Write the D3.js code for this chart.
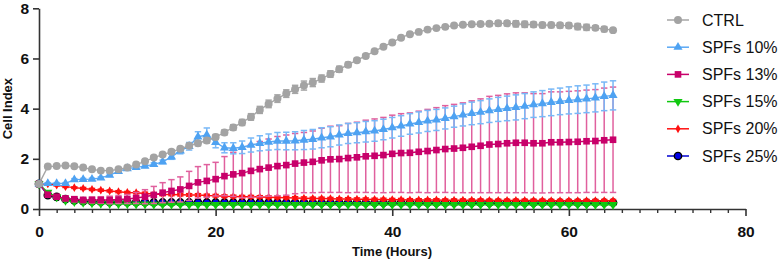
<!DOCTYPE html>
<html>
<head>
<meta charset="utf-8">
<script src="https://cdn.jsdelivr.net/npm/d3@7"></script>
<style>
  body { margin: 0; background: #fff; }
  text { font-family: Arial, "Liberation Sans", sans-serif; }
  .tick-label { font-size: 15.5px; font-weight: bold; fill: #111; }
  .axis-title { font-size: 13px; font-weight: bold; fill: #111; }
  .legend-label { font-size: 16px; fill: #111; }
</style>
</head>
<body>
<div id="chart"></div>
<script>
// hours of measurement
const hours = [0,1,2,3,4,5,6,7,8,9,10,11,12,13,14,15,16,17,18,19,20,21,22,23,24,25,26,27,28,29,
  30,31,32,33,34,35,36,37,38,39,40,41,42,43,44,45,46,47,48,49,50,51,52,53,54,55,56,57,58,59,
  60,61,62,63,64,65];

const ctrlMean = [1.00,1.69,1.71,1.73,1.70,1.65,1.58,1.53,1.53,1.58,1.65,1.77,1.90,2.05,2.17,2.28,2.40,2.52,2.62,2.73,
  2.87,3.05,3.25,3.45,3.67,3.95,4.19,4.40,4.60,4.77,4.92,5.04,5.20,5.38,5.57,5.75,5.93,6.10,6.29,6.47,
  6.64,6.83,6.97,7.06,7.15,7.21,7.26,7.31,7.34,7.36,7.37,7.38,7.40,7.40,7.38,7.36,7.35,7.33,7.33,7.32,
  7.31,7.27,7.24,7.22,7.17,7.13];
const ctrlErr = [0,0.03,0.03,0.03,0.03,0.03,0.03,0.04,0.04,0.04,0.05,0.05,0.06,0.06,0.07,0.08,0.08,0.09,0.10,0.10,
  0.10,0.10,0.11,0.12,0.13,0.14,0.15,0.15,0.15,0.16,0.18,0.16,0.14,0.13,0.12,0.10,0.08,0.07,0.06,0.05,
  0.05,0.04,0.04,0.04,0.04,0.04,0.04,0.05,0.05,0.06,0.07,0.08,0.10,0.10,0.12,0.12,0.10,0.10,0.10,0.10,
  0.10,0.12,0.12,0.08,0.10,0.06];

const spf10Mean = [1.00,1.02,1.02,1.02,1.17,1.18,1.19,1.24,1.35,1.50,1.61,1.66,1.71,1.78,1.88,2.08,2.32,2.50,2.88,2.95,
  2.66,2.44,2.42,2.46,2.55,2.62,2.67,2.71,2.71,2.72,2.75,2.78,2.84,2.88,2.95,3.01,3.04,3.08,3.11,3.17,
  3.24,3.31,3.39,3.45,3.51,3.55,3.61,3.68,3.75,3.81,3.86,3.92,3.97,4.01,4.05,4.10,4.16,4.20,4.25,4.29,
  4.33,4.36,4.39,4.43,4.49,4.53];
const spf10Err = [0,0.03,0.03,0.03,0.04,0.04,0.04,0.04,0.05,0.05,0.05,0.05,0.05,0.06,0.07,0.10,0.12,0.15,0.20,0.28,
  0.22,0.20,0.22,0.25,0.28,0.30,0.32,0.34,0.35,0.36,0.38,0.39,0.40,0.40,0.40,0.40,0.40,0.41,0.41,0.41,
  0.41,0.41,0.41,0.42,0.42,0.42,0.42,0.42,0.44,0.45,0.46,0.47,0.48,0.49,0.50,0.50,0.51,0.52,0.53,0.53,
  0.54,0.55,0.55,0.56,0.57,0.58];

const spf13Mean = [1.00,0.57,0.49,0.42,0.39,0.36,0.36,0.36,0.36,0.38,0.40,0.44,0.49,0.56,0.65,0.72,0.78,0.92,1.06,1.12,
  1.19,1.31,1.38,1.43,1.52,1.59,1.65,1.71,1.75,1.81,1.85,1.88,1.94,1.98,1.99,2.03,2.06,2.10,2.12,2.15,
  2.20,2.23,2.24,2.28,2.31,2.35,2.39,2.41,2.44,2.48,2.52,2.57,2.59,2.62,2.64,2.64,2.62,2.62,2.66,2.66,
  2.67,2.68,2.70,2.71,2.74,2.76];
const spf13Err = [0,0.05,0.06,0.08,0.10,0.10,0.12,0.13,0.15,0.16,0.18,0.22,0.28,0.34,0.40,0.45,0.50,0.58,0.63,0.65,
  0.67,0.78,0.88,0.98,1.05,1.10,1.14,1.18,1.20,1.20,1.20,1.23,1.28,1.32,1.33,1.38,1.40,1.44,1.47,1.50,
  1.54,1.57,1.59,1.62,1.66,1.69,1.73,1.76,1.79,1.83,1.87,1.92,1.94,1.97,1.99,1.99,1.98,1.98,2.01,2.01,
  2.02,2.03,2.04,2.05,2.08,2.10];

const spf15Mean = [1.00,0.66,0.48,0.34,0.29,0.26,0.24,0.22,0.21,0.20,0.20,0.19,0.19,0.18,0.18,0.18,0.18,0.17,0.17,0.17,
  0.17,0.17,0.17,0.17,0.17,0.17,0.17,0.17,0.17,0.17,0.17,0.17,0.17,0.17,0.17,0.17,0.17,0.17,0.17,0.17,
  0.17,0.17,0.17,0.17,0.17,0.17,0.17,0.17,0.17,0.17,0.17,0.17,0.17,0.17,0.17,0.17,0.17,0.17,0.17,0.17,
  0.17,0.17,0.17,0.17,0.17,0.17];
const spf15Err = [0,0.03,0.03,0.03,0.03,0.03,0.03,0.02,0.02,0.02,0.02,0.02,0.02,0.02,0.02,0.02,0.02,0.02,0.02,0.02,
  0.02,0.02,0.02,0.02,0.02,0.02,0.02,0.02,0.02,0.02,0.02,0.02,0.02,0.02,0.02,0.02,0.02,0.02,0.02,0.02,
  0.02,0.02,0.02,0.02,0.02,0.02,0.02,0.02,0.02,0.02,0.02,0.02,0.02,0.02,0.02,0.02,0.02,0.02,0.02,0.02,
  0.02,0.02,0.02,0.02,0.02,0.02];

const spf20Mean = [1.00,1.00,0.95,0.89,0.85,0.82,0.78,0.75,0.72,0.69,0.66,0.65,0.62,0.60,0.58,0.58,0.57,0.56,0.56,0.54,
  0.53,0.51,0.50,0.49,0.49,0.48,0.47,0.46,0.45,0.44,0.43,0.42,0.42,0.41,0.40,0.40,0.39,0.39,0.38,0.38,
  0.37,0.37,0.36,0.36,0.36,0.36,0.35,0.35,0.35,0.35,0.35,0.34,0.34,0.34,0.34,0.34,0.34,0.34,0.33,0.33,
  0.33,0.33,0.33,0.33,0.33,0.33];
const spf20Err = [0,0.03,0.03,0.03,0.03,0.04,0.04,0.04,0.04,0.04,0.04,0.04,0.05,0.05,0.05,0.05,0.05,0.05,0.05,0.05,
  0.05,0.05,0.05,0.05,0.05,0.05,0.05,0.05,0.05,0.05,0.05,0.05,0.05,0.05,0.05,0.05,0.05,0.05,0.05,0.05,
  0.05,0.05,0.05,0.05,0.05,0.05,0.05,0.05,0.05,0.05,0.05,0.05,0.05,0.05,0.05,0.05,0.05,0.05,0.05,0.05,
  0.05,0.05,0.05,0.05,0.05,0.05];

const spf25Mean = [1.00,0.55,0.48,0.39,0.34,0.31,0.30,0.29,0.28,0.28,0.27,0.27,0.27,0.26,0.26,0.26,0.26,0.26,0.26,0.26,
  0.26,0.26,0.26,0.26,0.26,0.26,0.26,0.26,0.26,0.26,0.26,0.25,0.25,0.25,0.25,0.25,0.25,0.25,0.25,0.25,
  0.25,0.25,0.25,0.25,0.25,0.25,0.25,0.25,0.25,0.25,0.25,0.25,0.25,0.25,0.25,0.25,0.25,0.25,0.25,0.25,
  0.25,0.25,0.25,0.25,0.25,0.25];
const spf25Err = [0,0.02,0.02,0.02,0.02,0.02,0.02,0.02,0.02,0.02,0.02,0.02,0.02,0.02,0.02,0.02,0.02,0.02,0.02,0.02,
  0.02,0.02,0.02,0.02,0.02,0.02,0.02,0.02,0.02,0.02,0.02,0.02,0.02,0.02,0.02,0.02,0.02,0.02,0.02,0.02,
  0.02,0.02,0.02,0.02,0.02,0.02,0.02,0.02,0.02,0.02,0.02,0.02,0.02,0.02,0.02,0.02,0.02,0.02,0.02,0.02,
  0.02,0.02,0.02,0.02,0.02,0.02];

const seriesNames = ["CTRL", "SPFs 10%", "SPFs 13%", "SPFs 15%", "SPFs 20%", "SPFs 25%"];
const xTicks = [0, 20, 40, 60, 80];
const yTicks = [0, 2, 4, 6, 8];

// styles per series (kept apart from the data)
const styles = [
  {line: "#a6a6a6", err: "#a6a6a6", fill: "#a3a3a3", stroke: "none", sym: d3.symbolCircle, size: 50, rot: 0},
  {line: "#5aa8f5", err: "#78b8f7", fill: "#4ea2f2", stroke: "none", sym: d3.symbolTriangle, size: 36, rot: 0},
  {line: "#c8006a", err: "#e0609e", fill: "#c8006a", stroke: "none", sym: d3.symbolSquare, size: 44, rot: 0},
  {line: "#10c810", err: "#10c810", fill: "#10c810", stroke: "none", sym: d3.symbolTriangle, size: 36, rot: 180},
  {line: "#ff1010", err: "#ff1010", fill: "#ff1010", stroke: "none", sym: d3.symbolDiamond, size: 22, rot: 0},
  {line: "#0000d0", err: "#0000d0", fill: "#0000e8", stroke: "#000", sym: d3.symbolCircle, size: 42, rot: 0}
];

const means = [ctrlMean, spf10Mean, spf13Mean, spf15Mean, spf20Mean, spf25Mean];
const errs = [ctrlErr, spf10Err, spf13Err, spf15Err, spf20Err, spf25Err];

const W = 782, H = 261;
const svg = d3.select("#chart").append("svg")
  .attr("width", W).attr("height", H);

const x = d3.scaleLinear().domain([0, 80]).range([39, 745.5]);
const y = d3.scaleLinear().domain([0, 8]).range([209, 8.3]);

// x axis with minor ticks every 2 hours
const minorTicks = d3.range(0, 81, 2).filter(v => v % 20 !== 0);
svg.append("g")
  .attr("transform", `translate(0,${y(0)})`)
  .call(d3.axisBottom(x).tickValues(minorTicks).tickSize(4).tickFormat(""))
  .call(g => g.select(".domain").remove())
  .call(g => g.selectAll("line").attr("stroke", "#333").attr("stroke-width", 1.4));

svg.append("g")
  .attr("transform", `translate(0,${y(0)})`)
  .call(d3.axisBottom(x).tickValues(xTicks).tickSize(7).tickSizeOuter(0).tickPadding(10))
  .call(g => g.select(".domain").attr("stroke", "#333").attr("stroke-width", 1.6))
  .call(g => g.selectAll("line").attr("stroke", "#333").attr("stroke-width", 1.6))
  .call(g => g.selectAll("text").attr("class", "tick-label").attr("font-size", null).attr("font-family", null));

svg.append("g")
  .attr("transform", `translate(${x(0)},0)`)
  .call(d3.axisLeft(y).tickValues(yTicks).tickSize(6).tickSizeOuter(0).tickPadding(4))
  .call(g => g.select(".domain").attr("stroke", "#333").attr("stroke-width", 1.6))
  .call(g => g.selectAll("line").attr("stroke", "#333").attr("stroke-width", 1.6))
  .call(g => g.selectAll("text").attr("class", "tick-label").attr("font-size", null).attr("font-family", null));

svg.append("text")
  .attr("class", "axis-title")
  .attr("x", 392).attr("y", 256)
  .attr("text-anchor", "middle")
  .text("Time (Hours)");

svg.append("text")
  .attr("class", "axis-title")
  .attr("transform", `translate(12,${y(4)}) rotate(-90)`)
  .attr("text-anchor", "middle")
  .text("Cell Index");

// draw series, last one first so CTRL lies on top
const plot = svg.append("g");
const order = [5, 4, 3, 2, 1, 0];
order.forEach(i => {
  const st = styles[i];
  const data = hours.map((h, k) => ({h: h, m: means[i][k], e: errs[i][k]}));
  const g = plot.append("g");

  const eb = g.selectAll(".eb").data(data.filter(d => d.e > 0)).join("g");
  eb.append("line")
    .attr("x1", d => x(d.h)).attr("x2", d => x(d.h))
    .attr("y1", d => y(d.m - d.e)).attr("y2", d => y(d.m + d.e))
    .attr("stroke", st.err).attr("stroke-width", 1.5);
  [-1, 1].forEach(s => {
    eb.append("line")
      .attr("x1", d => x(d.h) - 3.2).attr("x2", d => x(d.h) + 3.2)
      .attr("y1", d => y(d.m + s * d.e)).attr("y2", d => y(d.m + s * d.e))
      .attr("stroke", st.err).attr("stroke-width", 1.5);
  });

  g.append("path")
    .datum(data)
    .attr("fill", "none")
    .attr("stroke", st.line)
    .attr("stroke-width", 1.4)
    .attr("d", d3.line().x(d => x(d.h)).y(d => y(d.m)));

  g.selectAll(".pt").data(data).join("path")
    .attr("transform", d => `translate(${x(d.h)},${y(d.m)}) rotate(${st.rot})`)
    .attr("d", d3.symbol(st.sym, st.size))
    .attr("fill", st.fill)
    .attr("stroke", st.stroke)
    .attr("stroke-width", 1.4);
});

// legend
const legend = svg.append("g");
seriesNames.forEach((name, i) => {
  const st = styles[i];
  const ly = 20 + i * 27.2;
  legend.append("line")
    .attr("x1", 667).attr("x2", 689).attr("y1", ly).attr("y2", ly)
    .attr("stroke", st.line).attr("stroke-width", 1.5);
  legend.append("path")
    .attr("transform", `translate(678,${ly}) rotate(${st.rot})`)
    .attr("d", d3.symbol(st.sym, st.size))
    .attr("fill", st.fill).attr("stroke", st.stroke).attr("stroke-width", 1.4);
  legend.append("text")
    .attr("class", "legend-label")
    .attr("x", 702).attr("y", ly + 5.5)
    .text(name);
});
</script>
</body>
</html>
